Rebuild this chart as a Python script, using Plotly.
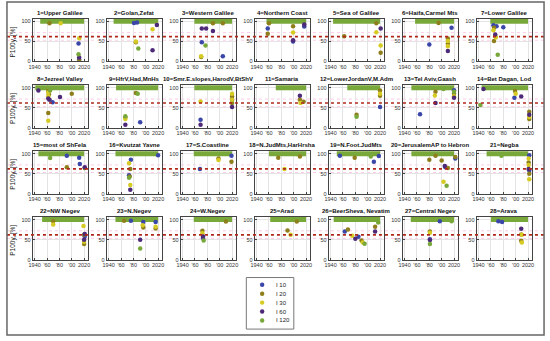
import plotly.graph_objects as go

# ---------------- data ----------------
TITLES = ["1=Upper Galilee", "2=Golan,Zefat", "3=Western Galilee", "4=Northern Coast",
          "5=Sea of Galilee", "6=Haifa,Carmel Mts", "7=Lower Galilee",
          "8=Jezreel Valley", "9=HfrV,Had,MnHs", "10=Smr.E.slopes,HarodV,BtShV", "11=Samaria",
          "12=LowerJordanV,M.Adm", "13=Tel Aviv,Gaash", "14=Bet Dagan, Lod",
          "15=most of ShFela", "16=Kvutzat Yavne", "17=S.Coastline", "18=N.JudMts,HarHrsha",
          "19=N.Foot.JudMts", "20=JerusalemAP to Hebron", "21=Negba",
          "22=NW Negev", "23=N.Negev", "24=W.Negev", "25=Arad",
          "26=BeerSheva, Nevatim", "27=Central Negev", "28=Arava"]

# I120 = 100 % band (start year, end year) per region
BAND_START = [1949, 1948, 1959, 1956, 1944, 1957, 1959,
              1941, 1952, 1959, 1971, 1967, 1951, 1945,
              1946, 1951, 1958, 1960, 1950, 1951, 1953,
              1952, 1951, 1958, 1962, 1945, 1950, 1960]
BAND_END = [2020] * 28

SERIES = ["I 10", "I 20", "I 30", "I 60", "I 120"]
COLORS = ["#3a46a8", "#8f7f1c", "#d6cb24", "#4d2a78", "#78a83a"]

# (region, year, P100y %)
I10 = [(1, 2011, 45), (1, 2012, 5), (2, 1981, 96), (2, 1986, 97), (3, 1971, 48), (3, 2005, 13),
       (4, 1958, 82), (4, 1999, 50), (4, 2017, 87), (6, 1980, 42), (6, 2016, 84),
       (7, 1964, 90), (7, 1969, 88), (7, 1980, 85), (8, 1969, 64), (9, 1991, 14),
       (10, 1969, 20), (10, 2020, 70), (12, 2020, 52), (13, 1965, 34), (13, 2020, 94),
       (14, 1998, 75), (15, 1992, 95), (15, 2012, 90), (15, 2013, 74), (16, 2020, 96),
       (16, 1976, 85), (16, 1973, 46), (17, 1968, 62), (17, 2019, 95), (19, 1955, 95),
       (19, 2010, 80), (19, 2018, 94), (20, 2006, 66), (20, 2022, 88), (21, 2022, 96),
       (21, 2022, 58), (22, 2021, 58), (23, 1976, 97), (23, 1996, 94), (23, 2016, 94),
       (24, 1973, 54), (26, 1963, 70), (26, 1985, 57), (27, 1997, 96), (27, 1981, 51),
       (28, 1972, 96), (28, 1978, 94)]
I20 = [(1, 1964, 95), (1, 2012, 1), (2, 1984, 48), (3, 1989, 95), (3, 2005, 95), (3, 1970, 11),
       (4, 1960, 95), (4, 1958, 69), (4, 1999, 88), (5, 1962, 63), (5, 2014, 95), (5, 2021, 22),
       (6, 2010, 57), (6, 2010, 44), (6, 1995, 96), (7, 1965, 84), (7, 1967, 63), (7, 1965, 51),
       (8, 1962, 92), (8, 1963, 84), (8, 2000, 85), (8, 1962, 37), (9, 1984, 87), (9, 1967, 26),
       (10, 2020, 78), (10, 2020, 62), (11, 2010, 70), (11, 2016, 65), (12, 2020, 93),
       (12, 2020, 80), (12, 1982, 33), (13, 1990, 90), (13, 2020, 85), (14, 1999, 92),
       (14, 2022, 40), (14, 2022, 22), (15, 1992, 66), (15, 2021, 64), (16, 1975, 62),
       (16, 1974, 43), (17, 1998, 88), (17, 2019, 80), (18, 1975, 90), (18, 2010, 93),
       (19, 1979, 90), (20, 1980, 85), (20, 2000, 83), (20, 1990, 95), (20, 2010, 64),
       (20, 2022, 92), (21, 2021, 78), (21, 2022, 50), (22, 1970, 96), (22, 2020, 62),
       (22, 2020, 39), (23, 1965, 97), (23, 1996, 80), (23, 2016, 78), (24, 1972, 72),
       (24, 2010, 95), (25, 1990, 73), (25, 2005, 95), (26, 1968, 75), (26, 1990, 48),
       (26, 2012, 82), (27, 1981, 70), (28, 2009, 63), (28, 2009, 47)]
I30 = [(1, 1982, 95), (1, 2012, 58), (2, 2011, 80), (2, 1984, 50), (3, 1970, 13),
       (4, 1999, 72), (5, 2014, 73), (5, 2021, 40), (6, 2010, 51), (6, 2010, 38),
       (7, 1964, 78), (7, 1968, 60), (8, 1962, 88), (8, 1962, 79), (8, 1962, 18),
       (9, 1967, 22), (10, 1969, 66), (10, 2020, 85), (10, 2020, 70), (11, 2011, 62),
       (12, 2020, 85), (13, 1989, 81), (13, 2020, 79), (14, 2000, 85), (14, 2022, 27),
       (16, 1973, 76), (16, 1975, 22), (17, 1998, 84), (18, 1985, 62), (20, 2003, 30),
       (21, 2021, 88), (21, 2021, 72), (21, 2022, 36), (22, 1970, 88), (22, 2019, 84),
       (22, 2020, 45), (23, 1995, 86), (23, 2016, 82), (24, 1972, 66), (25, 1995, 62),
       (26, 1975, 60), (26, 1992, 43), (27, 1981, 67), (28, 2010, 62), (28, 2010, 43)]
I60 = [(1, 2012, 10), (2, 2018, 91), (2, 2011, 28), (3, 1971, 82), (3, 1978, 82), (3, 1989, 76),
       (4, 1999, 53), (4, 2017, 92), (5, 2021, 82), (6, 2010, 26), (7, 1967, 67),
       (8, 1946, 93), (8, 1962, 73), (8, 1964, 70), (8, 1981, 77), (9, 1967, 8),
       (10, 1969, 8), (10, 2020, 52), (11, 2010, 80), (13, 1990, 62), (13, 2020, 75),
       (14, 1948, 97), (14, 2009, 78), (14, 2022, 33), (15, 2021, 66), (16, 1975, 10),
       (20, 2005, 69), (21, 2021, 62), (22, 2021, 64), (22, 2020, 50), (23, 1991, 50),
       (24, 1973, 58), (26, 1980, 52), (26, 2012, 70), (27, 1981, 49), (28, 2009, 77)]
I120 = [(1, 2011, 18), (2, 1988, 32), (3, 1977, 40), (7, 1971, 17), (8, 1965, 93),
        (9, 1987, 85), (9, 1967, 29), (12, 1982, 28), (13, 2003, 97), (13, 2020, 90),
        (14, 1943, 57), (15, 1965, 89), (16, 1973, 40), (19, 2005, 93), (20, 2008, 20),
        (21, 1977, 95), (23, 1991, 28), (24, 1974, 48), (26, 1995, 40), (26, 2017, 93),
        (27, 2016, 96), (27, 1981, 39)]
POINTS = [I10, I20, I30, I60, I120]

THRESHOLD = 62
YTICKS = [0, 50, 100]
XTICKS = [1940, 1960, 1980, 2000, 2020]
XTICKLABELS = ["1940", "'60", "'80", "'00", "2020"]
YLABEL = "P100y, [%]"

# ---------------- layout geometry (pixels) ----------------
W, H = 550, 341
COL_LEFT0, COL_PITCH, PANEL_W = 29, 74.8, 56
ROW_BOTTOM = [62, 129, 195.5, 262]
PANEL_H = 43.3
FONT = "Arial, Liberation Sans, sans-serif"


def px_x(p):
    return p / W


def px_y(p):
    return 1 - p / H


fig = go.Figure()
layout = {}
annotations = []
shapes = []

for i in range(28):
    r, c = divmod(i, 7)
    n = i + 1
    sfx = "" if n == 1 else str(n)
    L = COL_LEFT0 + COL_PITCH * c
    bot = ROW_BOTTOM[r]
    top = bot - PANEL_H
    layout["xaxis" + sfx] = dict(
        domain=[px_x(L), px_x(L + PANEL_W)], range=[1936.8, 2026.4],
        anchor="y" + sfx, tickvals=XTICKS, ticktext=XTICKLABELS, tickangle=0,
        tickfont=dict(size=5.5, color="#333", family=FONT), ticks="inside", ticklen=2,
        tickcolor="#444", showline=True, linecolor="#444", linewidth=1, mirror=True,
        showgrid=True, gridcolor="#e4e4e4", gridwidth=0.5, zeroline=False, fixedrange=True)
    layout["yaxis" + sfx] = dict(
        domain=[px_y(bot), px_y(top)], range=[0, 107], anchor="x" + sfx,
        tickvals=YTICKS, tickfont=dict(size=5.5, color="#333", family=FONT),
        ticks="inside", ticklen=2, tickcolor="#444", showline=True, linecolor="#444",
        linewidth=1, mirror=True, showgrid=True, gridcolor="#e4e4e4", gridwidth=0.5,
        zeroline=False, fixedrange=True)
    annotations.append(dict(
        text="<b>" + TITLES[i] + "</b>", xref="paper", yref="paper",
        x=px_x(L + PANEL_W / 2), y=px_y(top - 6), xanchor="center", yanchor="middle",
        showarrow=False, font=dict(size=6, color="#111", family=FONT)))
    # I120 band at 100 %
    fig.add_trace(go.Scatter(
        x=[BAND_START[i], BAND_END[i]], y=[100, 100], mode="lines",
        line=dict(color=COLORS[4], width=5), xaxis="x" + sfx, yaxis="y" + sfx,
        showlegend=False, hoverinfo="skip"))

# threshold / pink guide lines per row (span the whole figure)
for r in range(4):
    sfx = "" if r == 0 else str(7 * r + 1)
    for lvl in (72, 53):
        shapes.append(dict(type="line", xref="paper", yref="y" + sfx,
                           x0=px_x(3), x1=px_x(546), y0=lvl, y1=lvl,
                           line=dict(color="rgba(250,140,200,0.45)", width=1, dash="dot"),
                           layer="below"))
    shapes.append(dict(type="line", xref="paper", yref="y" + sfx,
                       x0=px_x(3), x1=px_x(546), y0=THRESHOLD, y1=THRESHOLD,
                       line=dict(color="#b0281c", width=1.6, dash="dot"), layer="above"))
    bot = ROW_BOTTOM[r]
    annotations.append(dict(
        text=YLABEL, xref="paper", yref="paper", x=px_x(9), y=px_y(bot - 20),
        textangle=-90, showarrow=False, xanchor="center", yanchor="middle",
        font=dict(size=6.5, color="#222", family=FONT)))

# points
for s, pts in enumerate(POINTS):
    for i in range(28):
        sel = [p for p in pts if p[0] == i + 1]
        if not sel:
            continue
        sfx = "" if i == 0 else str(i + 1)
        fig.add_trace(go.Scatter(
            x=[p[1] for p in sel], y=[p[2] for p in sel], mode="markers",
            marker=dict(color=COLORS[s], size=4.5, line=dict(width=0)),
            xaxis="x" + sfx, yaxis="y" + sfx, showlegend=False,
            name=SERIES[s]))

# manual legend (box, symbols, labels)
LEG_X0, LEG_Y0, LEG_X1, LEG_Y1 = 245, 280, 293, 332
shapes.append(dict(type="rect", xref="paper", yref="paper",
                   x0=px_x(LEG_X0), x1=px_x(LEG_X1), y0=px_y(LEG_Y1), y1=px_y(LEG_Y0),
                   line=dict(color="#777", width=1), fillcolor="white"))
for k, name in enumerate(SERIES):
    yy = 287.3 + 9 * k
    shapes.append(dict(type="circle", xref="paper", yref="paper",
                       xsizemode="pixel", ysizemode="pixel",
                       xanchor=px_x(261), yanchor=px_y(yy),
                       x0=-2.2, x1=2.2, y0=-2.2, y1=2.2,
                       fillcolor=COLORS[k], line=dict(width=0)))
    annotations.append(dict(text=name, xref="paper", yref="paper", x=px_x(273), y=px_y(yy),
                            xanchor="left", yanchor="middle", showarrow=False,
                            font=dict(size=6, color="#222", family=FONT)))

# outer frame
shapes.append(dict(type="rect", xref="paper", yref="paper",
                   x0=px_x(3), x1=px_x(546), y0=px_y(338), y1=px_y(2),
                   line=dict(color="#666", width=1.5)))

fig.update_layout(width=W, height=H, margin=dict(l=0, r=0, t=0, b=0),
                  paper_bgcolor="white", plot_bgcolor="white",
                  font=dict(family=FONT), showlegend=False,
                  annotations=annotations, shapes=shapes, **layout)

fig.write_html("out.html", config={"displayModeBar": False},
               post_script="document.body.style.margin='0';")
